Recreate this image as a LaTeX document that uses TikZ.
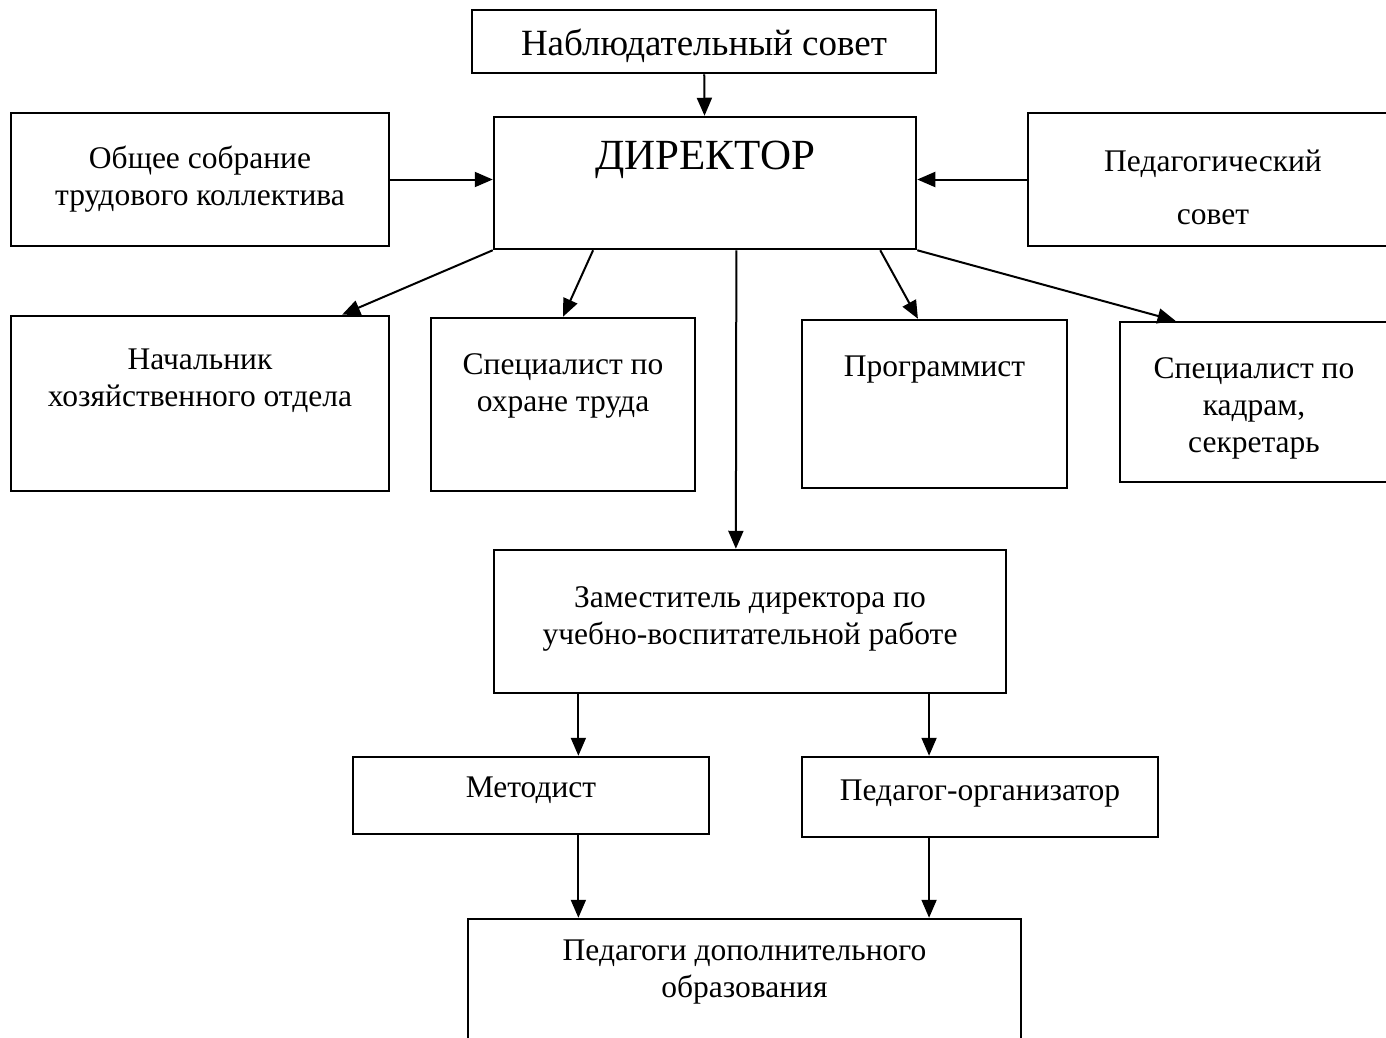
\documentclass[tikz,border=0pt]{standalone}
\usepackage{fontspec}
\setmainfont{Liberation Serif}
\usetikzlibrary{arrows.meta}
\tikzset{box/.style={draw, line width=2.5pt, inner sep=0pt, align=center,
    font=\fontsize{31.5}{37}\selectfont},
  lbl/.style={inner sep=0pt, align=center, font=\fontsize{31.5}{37}\selectfont},
  >={Triangle[length=18pt,width=15pt]}}

\begin{document}
\begin{tikzpicture}[x=1pt, y=-1pt, line width=2pt]
                \useasboundingbox (0,0) rectangle (1386,1037);
                \node[box, minimum width=464pt, minimum height=63pt, label={[lbl, below=19pt, font=\fontsize{37}{42}\selectfont]north:Наблюдательный совет}] (N) at (704,41.5) {};
                \node[box, minimum width=422pt, minimum height=132pt, label={[lbl, below=24pt, font=\fontsize{43}{48}\selectfont]north:ДИРЕКТОР}] (D) at (705,183) {};
                \node[box, minimum width=378pt, minimum height=133pt] (O) at (200,179.5) {Общее собрание\\трудового коллектива};
                \node[box, minimum width=370pt, minimum height=133pt, label={[lbl, below=37pt]north:Педагогический\\[16pt]совет}] (P) at (1213,179.5) {};
                \node[box, minimum width=378pt, minimum height=175pt, label={[lbl, below=33pt]north:Начальник\\хозяйственного отдела}] (A) at (200,403.5) {};
                \node[box, minimum width=264pt, minimum height=173pt, label={[lbl, below=36pt]north:Специалист по\\охране труда}] (S) at (563,404.5) {};
                \node[box, minimum width=265pt, minimum height=168pt, label={[lbl, below=36pt]north:Программист}] (G) at (934.5,404) {};
                \node[box, minimum width=268pt, minimum height=160pt, label={[lbl, below=36pt]north:Специалист по\\кадрам,\\секретарь}] (K) at (1254,402) {};
                \node[box, minimum width=512pt, minimum height=143pt, label={[lbl, below=37pt]north:Заместитель директора по\\учебно-воспитательной работе}] (Z) at (750,621.5) {};
                \node[box, minimum width=356pt, minimum height=77pt, label={[lbl, below=20pt]north:Методист}] (M) at (531,795.5) {};
                \node[box, minimum width=356pt, minimum height=80pt, label={[lbl, below=23pt]north:Педагог-организатор}] (T) at (980,797) {};
                \node[box, minimum width=553pt, minimum height=160pt, label={[lbl, below=21pt]north:Педагоги дополнительного\\образования}] (E) at (744.5,999) {};
                \draw[->] (N) -- (D);
                \draw[->] (O) -- (O -| D.west);
                \draw[->] (P) -- (P -| D.east);
                \draw[->] (D.south west) -- (A.32);
                \draw[->] (D.211) -- (S.north);
                \draw[->] (D.295) -- (Z.101);
                \draw[->] (D.339) -- (G.101);
                \draw[->] (D.south east) -- (K.134);
                \draw[->] (M.40 |- Z.south) -- (M.40);
                \draw[->] (T.141 |- Z.south) -- (T.141);
                \draw[->] (M.-40) -- (M.-40 |- E.north);
                \draw[->] (T.-141) -- (T.-141 |- E.north);
              \end{tikzpicture}
\end{document}
